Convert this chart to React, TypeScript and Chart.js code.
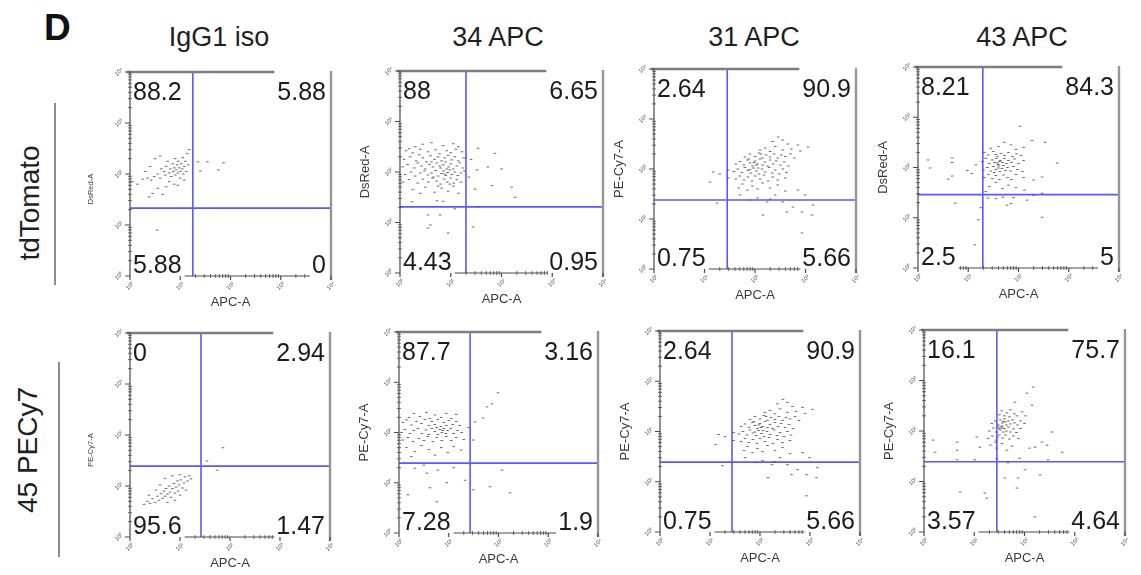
import React, { useEffect, useRef } from "react";
import { Chart, registerables } from "chart.js";

Chart.register(...registerables);

// ---------- text / labels ----------
const panelLetter = "D";
const columnHeaders = ["IgG1 iso", "34 APC", "31 APC", "43 APC"];
const rowLabels = ["tdTomato", "45 PECy7"];
const decadeTickLabels = ["10⁰", "10¹", "10²", "10³", "10⁴"];
const xAxisTitle = "APC-A";
const yAxisTitles = ["DsRed-A", "DsRed-A", "PE-Cy7-A", "DsRed-A", "PE-Cy7-A", "PE-Cy7-A", "PE-Cy7-A", "PE-Cy7-A"];

// quadrant percentages: [upper-left, upper-right, lower-left, lower-right]
const quadIgGTd = [88.2, 5.88, 5.88, 0];
const quad34Td = [88, 6.65, 4.43, 0.95];
const quad31Td = [2.64, 90.9, 0.75, 5.66];
const quad43Td = [8.21, 84.3, 2.5, 5];
const quadIgGPe = [0, 2.94, 95.6, 1.47];
const quad34Pe = [87.7, 3.16, 7.28, 1.9];
const quad31Pe = [2.64, 90.9, 0.75, 5.66];
const quad43Pe = [16.1, 75.7, 3.57, 4.64];

// quadrant gate positions (decades of the log axis, 0 = 10^0 ... 4 = 10^4)
const gateX = [1.25, 1.3, 1.45, 1.29, 1.42, 1.43, 1.44, 1.45];
const gateY = [1.33, 1.31, 1.38, 1.46, 1.39, 1.39, 1.39, 1.39];

// ---------- events (x = APC-A decade, y = DsRed-A / PE-Cy7-A decade) ----------
const pointsIgGTd = [
  [0.05, 1.85], [0.15, 1.8], [0.25, 1.9], [0.35, 1.92], [0.42, 1.88], [0.48, 1.95], [0.55, 2.0], [0.6, 1.92],
  [0.62, 2.1], [0.68, 2.05], [0.7, 1.98], [0.72, 2.15], [0.75, 2.25], [0.78, 2.02], [0.8, 2.1], [0.82, 1.95],
  [0.85, 2.2], [0.86, 2.05], [0.88, 2.12], [0.9, 2.3], [0.9, 1.98], [0.92, 2.08], [0.94, 2.18], [0.95, 2.02],
  [0.96, 2.25], [0.98, 2.12], [1.0, 2.05], [1.0, 1.92], [1.02, 2.2], [1.04, 2.1], [1.05, 2.32], [1.06, 2.0],
  [1.08, 2.15], [1.1, 2.25], [1.12, 2.05], [1.14, 2.4], [1.16, 2.18], [1.18, 2.48], [0.6, 2.35], [0.5, 2.3],
  [0.4, 2.15], [0.3, 2.05], [0.78, 1.85], [0.88, 1.8], [0.95, 1.78], [0.72, 1.75], [1.08, 1.88], [0.55, 1.72],
  [0.45, 1.62], [0.38, 1.55], [0.65, 1.6], [1.4, 2.06], [1.54, 2.24], [1.76, 2.08], [1.86, 2.22], [0.54, 0.9],
  [1.35, 2.24],
];

const points34Td = [
  [0.45, 2.55], [0.62, 2.58], [0.85, 2.52], [1.05, 2.56], [0.3, 2.5], [1.15, 2.5],
  [0.12, 2.42], [0.25, 2.38], [0.4, 2.45], [0.55, 2.4], [0.7, 2.44], [0.78, 2.36], [0.92, 2.42], [1.0, 2.38],
  [1.1, 2.45], [1.22, 2.4], [0.18, 2.46],
  [0.08, 2.25], [0.2, 2.3], [0.32, 2.22], [0.45, 2.28], [0.52, 2.2], [0.6, 2.32], [0.68, 2.25], [0.75, 2.3],
  [0.82, 2.22], [0.88, 2.28], [0.95, 2.33], [1.02, 2.24], [1.08, 2.3], [1.15, 2.22], [1.25, 2.28], [0.38, 2.34],
  [0.05, 2.1], [0.15, 2.15], [0.28, 2.08], [0.35, 2.18], [0.42, 2.12], [0.5, 2.06], [0.58, 2.15], [0.65, 2.1],
  [0.72, 2.18], [0.8, 2.08], [0.85, 2.14], [0.9, 2.2], [0.96, 2.1], [1.0, 2.16], [1.05, 2.06], [1.12, 2.12],
  [1.18, 2.18], [1.24, 2.08], [0.62, 2.2], [0.78, 2.12], [0.92, 2.06],
  [0.1, 1.95], [0.22, 2.0], [0.3, 1.92], [0.4, 1.98], [0.48, 2.02], [0.55, 1.94], [0.62, 1.98], [0.7, 2.03],
  [0.75, 1.92], [0.82, 1.97], [0.86, 2.02], [0.9, 1.93], [0.94, 1.99], [0.98, 2.04], [1.02, 1.95], [1.08, 2.0],
  [1.14, 1.93], [1.2, 1.98], [1.27, 2.02], [0.66, 1.9], [0.88, 1.96],
  [0.06, 1.8], [0.18, 1.85], [0.35, 1.78], [0.45, 1.86], [0.56, 1.8], [0.64, 1.88], [0.72, 1.82], [0.8, 1.76],
  [0.87, 1.86], [0.93, 1.8], [1.0, 1.88], [1.06, 1.78], [1.12, 1.85], [1.2, 1.8], [0.98, 1.76],
  [0.25, 1.65], [0.5, 1.7], [0.68, 1.6], [0.82, 1.68], [0.95, 1.62], [1.05, 1.72], [1.15, 1.58], [0.4, 1.58],
  [0.75, 1.72],
  [1.54, 2.47], [1.87, 2.37], [1.73, 2.1], [2.0, 2.06], [1.52, 2.04], [1.81, 1.73], [2.2, 1.7], [1.48, 1.66],
  [2.27, 1.5], [1.4, 2.25], [1.36, 1.9], [1.3, 2.28],
  [0.24, 1.41], [0.55, 1.15], [0.79, 1.15], [0.55, 0.89], [0.95, 0.79], [1.44, 0.91], [1.08, 1.27], [0.73, 1.43],
  [1.54, 1.31], [0.85, 1.42], [0.6, 0.95],
];

const points31 = [
  [2.46, 2.64], [3.05, 2.44], [2.85, 2.48], [2.55, 2.58], [2.35, 2.55], [2.65, 2.5], [2.72, 2.4], [2.4, 2.45],
  [2.2, 2.42], [2.55, 2.38], [2.9, 2.36], [2.3, 2.35], [2.1, 2.38],
  [1.9, 2.3], [2.0, 2.25], [2.08, 2.32], [2.15, 2.22], [2.22, 2.28], [2.3, 2.24], [2.38, 2.3], [2.45, 2.22],
  [2.52, 2.28], [2.6, 2.25], [2.7, 2.3], [2.78, 2.22], [1.8, 2.24], [2.12, 2.3],
  [1.62, 2.1], [1.7, 2.15], [1.78, 2.08], [1.85, 2.18], [1.9, 2.12], [1.95, 2.06], [2.0, 2.16], [2.05, 2.1],
  [2.1, 2.2], [2.15, 2.08], [2.2, 2.14], [2.25, 2.06], [2.3, 2.18], [2.36, 2.1], [2.42, 2.16], [2.5, 2.08],
  [2.58, 2.14], [2.66, 2.06], [1.88, 2.2], [2.02, 2.08], [1.98, 2.13],
  [1.58, 1.95], [1.66, 2.0], [1.74, 1.93], [1.8, 2.03], [1.86, 1.97], [1.92, 1.92], [1.97, 2.02], [2.03, 1.96],
  [2.08, 1.9], [2.14, 2.0], [2.2, 1.94], [2.28, 2.03], [2.34, 1.92], [2.4, 1.98], [2.48, 1.9], [2.55, 2.0],
  [2.62, 1.93], [1.9, 1.99], [2.06, 2.02],
  [1.62, 1.8], [1.7, 1.86], [1.78, 1.78], [1.86, 1.84], [1.94, 1.76], [2.0, 1.86], [2.1, 1.8], [2.18, 1.88],
  [2.26, 1.76], [2.35, 1.84], [2.45, 1.78], [2.6, 1.82],
  [1.68, 1.62], [1.75, 1.7], [1.85, 1.58], [1.95, 1.66], [2.05, 1.6], [2.15, 1.72], [2.3, 1.62], [2.45, 1.68],
  [2.6, 1.56], [2.85, 1.58],
  [1.11, 1.74], [1.17, 1.94], [1.47, 1.98], [1.47, 1.82], [1.3, 1.9],
  [1.9, 1.38], [2.24, 1.34], [2.55, 1.34], [2.16, 1.08], [2.63, 1.14], [2.75, 1.24], [2.93, 1.14], [3.13, 1.08],
  [2.93, 0.72], [1.25, 1.32], [3.15, 1.28], [2.99, 1.48], [2.4, 1.48], [1.7, 1.48], [2.05, 1.42], [2.3, 1.4],
];

const points43Td = [
  [2.03, 2.82], [2.27, 2.54], [2.53, 2.5], [1.72, 2.5], [1.6, 2.42], [1.85, 2.45], [1.45, 2.38], [1.95, 2.36],
  [2.1, 2.4],
  [1.32, 2.3], [1.4, 2.25], [1.5, 2.32], [1.58, 2.22], [1.65, 2.28], [1.72, 2.24], [1.8, 2.3], [1.88, 2.22],
  [1.96, 2.27], [2.05, 2.24], [1.55, 2.26],
  [1.28, 2.12], [1.35, 2.18], [1.42, 2.08], [1.48, 2.15], [1.52, 2.1], [1.56, 2.18], [1.6, 2.06], [1.64, 2.14],
  [1.68, 2.1], [1.72, 2.18], [1.76, 2.08], [1.8, 2.14], [1.86, 2.1], [1.92, 2.17], [2.0, 2.08], [2.1, 2.14],
  [1.62, 2.12], [1.58, 2.09],
  [1.3, 1.95], [1.38, 2.0], [1.45, 1.93], [1.5, 2.02], [1.55, 1.96], [1.6, 2.03], [1.63, 1.92], [1.67, 1.98],
  [1.7, 2.04], [1.74, 1.94], [1.78, 2.0], [1.84, 1.93], [1.9, 2.02], [1.98, 1.96], [2.08, 1.92], [1.6, 1.99],
  [1.52, 1.9],
  [1.32, 1.8], [1.4, 1.86], [1.48, 1.78], [1.55, 1.84], [1.62, 1.76], [1.7, 1.85], [1.78, 1.8], [1.86, 1.76],
  [1.95, 1.86], [2.1, 1.8],
  [1.42, 1.62], [1.55, 1.7], [1.68, 1.58], [1.8, 1.65], [1.95, 1.6], [2.12, 1.55], [1.35, 1.52],
  [0.2, 2.15], [0.24, 1.99], [0.68, 2.19], [0.68, 2.1], [0.98, 1.94], [1.07, 1.88], [0.68, 1.83], [0.6, 1.77],
  [1.15, 2.05],
  [2.77, 2.09], [2.47, 1.81], [2.3, 1.75],
  [2.47, 1.49], [2.17, 1.35], [1.69, 1.41], [1.77, 1.25], [2.47, 1.01], [0.74, 1.29], [1.2, 0.96], [1.13, 0.46],
  [1.39, 1.39], [1.9, 1.4], [2.3, 1.45], [1.55, 1.38], [1.85, 1.28], [1.25, 1.2],
];

const pointsIgGPe = [
  [0.28, 0.64], [0.35, 0.7], [0.4, 0.66], [0.45, 0.75], [0.5, 0.68], [0.55, 0.8], [0.58, 0.72], [0.62, 0.85],
  [0.65, 0.76], [0.68, 0.9], [0.7, 0.8], [0.72, 0.95], [0.75, 0.84], [0.78, 1.0], [0.8, 0.88], [0.82, 0.78],
  [0.85, 0.95], [0.88, 1.05], [0.9, 0.86], [0.92, 0.98], [0.95, 1.1], [0.96, 0.9], [0.98, 1.02], [1.0, 0.82],
  [1.02, 1.12], [1.05, 0.96], [1.08, 1.06], [1.1, 1.18], [1.12, 0.92], [1.15, 1.1], [1.18, 1.2], [1.22, 1.14],
  [0.52, 0.92], [0.6, 1.02], [0.7, 1.15], [0.38, 0.82], [0.85, 1.2], [0.9, 0.72], [1.0, 1.22], [0.75, 0.68],
  [1.86, 1.75], [1.54, 1.49], [1.74, 1.31],
];

const points34Pe = [
  [0.3, 2.38], [0.55, 2.4], [0.72, 2.35], [0.95, 2.38], [1.15, 2.36], [0.42, 2.32], [0.85, 2.3], [1.05, 2.28],
  [0.2, 2.3],
  [0.08, 2.2], [0.15, 2.25], [0.25, 2.15], [0.35, 2.22], [0.45, 2.18], [0.52, 2.26], [0.6, 2.14], [0.66, 2.22],
  [0.72, 2.16], [0.78, 2.26], [0.84, 2.12], [0.9, 2.2], [0.95, 2.14], [1.0, 2.24], [1.08, 2.16], [1.15, 2.22],
  [1.22, 2.14], [0.62, 2.28],
  [0.05, 2.0], [0.12, 2.06], [0.22, 1.98], [0.3, 2.04], [0.38, 2.08], [0.46, 1.98], [0.54, 2.05], [0.6, 1.96],
  [0.66, 2.08], [0.72, 2.02], [0.78, 1.96], [0.82, 2.06], [0.86, 2.0], [0.9, 2.08], [0.94, 1.98], [0.98, 2.04],
  [1.04, 2.08], [1.1, 1.98], [1.18, 2.04], [1.26, 2.0], [0.88, 2.04], [0.76, 2.1],
  [0.08, 1.85], [0.18, 1.9], [0.28, 1.82], [0.4, 1.88], [0.5, 1.84], [0.58, 1.92], [0.68, 1.82], [0.76, 1.9],
  [0.86, 1.84], [0.95, 1.92], [1.05, 1.84], [1.15, 1.9], [1.3, 1.86],
  [0.15, 1.7], [0.32, 1.62], [0.45, 1.74], [0.6, 1.66], [0.72, 1.55], [0.85, 1.7], [0.98, 1.6], [1.1, 1.72],
  [1.25, 1.65], [0.25, 1.52],
  [1.99, 2.79], [1.87, 2.57], [1.77, 2.51], [1.69, 2.29], [1.53, 2.21], [1.49, 1.85], [1.4, 2.1],
  [0.32, 1.29], [0.56, 1.19], [0.78, 1.25], [0.96, 1.0], [0.62, 0.9], [0.18, 0.76], [0.76, 0.62], [2.07, 1.25],
  [2.23, 0.8], [1.83, 0.92], [1.49, 0.86], [1.33, 1.05], [0.5, 1.35], [1.1, 1.3],
];

const points43Pe = [
  [2.17, 2.87], [2.05, 2.75], [1.81, 2.57], [2.15, 2.51],
  [1.55, 2.4], [1.65, 2.36], [1.72, 2.42], [1.8, 2.34], [1.6, 2.3], [1.7, 2.28], [1.85, 2.3], [1.5, 2.32],
  [1.95, 2.38], [2.02, 2.3],
  [1.35, 2.15], [1.42, 2.2], [1.48, 2.12], [1.52, 2.22], [1.56, 2.16], [1.6, 2.24], [1.64, 2.12], [1.68, 2.2],
  [1.72, 2.14], [1.76, 2.22], [1.8, 2.16], [1.86, 2.12], [1.92, 2.2], [2.0, 2.15], [1.58, 2.19], [1.62, 2.18],
  [1.3, 2.0], [1.38, 2.06], [1.44, 1.98], [1.48, 2.08], [1.52, 2.02], [1.54, 2.08], [1.56, 2.06], [1.58, 1.98],
  [1.6, 2.05], [1.64, 2.0], [1.68, 2.08], [1.72, 1.98], [1.78, 2.04], [1.84, 1.97], [1.92, 2.05], [1.55, 2.1],
  [1.5, 2.05],
  [1.28, 1.85], [1.36, 1.9], [1.44, 1.82], [1.5, 1.92], [1.56, 1.86], [1.62, 1.92], [1.7, 1.84], [1.78, 1.9],
  [1.88, 1.85], [1.46, 1.88],
  [1.32, 1.72], [1.45, 1.66], [1.55, 1.75], [1.65, 1.62], [1.75, 1.7], [1.42, 1.78],
  [2.55, 1.98], [2.35, 1.78], [2.45, 1.72], [2.75, 1.58], [2.21, 1.68], [2.1, 1.66], [0.18, 1.82], [0.66, 1.78],
  [0.22, 1.58], [0.66, 1.62], [1.05, 1.88], [1.11, 1.68], [0.66, 1.43], [1.01, 1.43], [1.67, 1.37], [1.61, 1.07],
  [1.87, 1.07], [1.85, 0.87], [2.01, 1.23], [2.31, 1.13], [2.47, 1.43], [0.72, 0.79], [1.21, 0.77], [1.25, 0.67],
  [2.21, 0.3], [1.45, 1.45], [1.9, 1.46],
];

const panelPoints = [pointsIgGTd, points34Td, points31, points43Td, pointsIgGPe, points34Pe, points31, points43Pe];
const panelQuads = [quadIgGTd, quad34Td, quad31Td, quad43Td, quadIgGPe, quad34Pe, quad31Pe, quad43Pe];

// ---------- layout (pixel boxes of each plot area: left, top, right, bottom) ----------
const panelBoxes = [
  [130, 72, 331, 276],
  [400, 71, 603, 273],
  [654, 69, 856, 269],
  [918, 67, 1119, 268],
  [130, 333, 330, 537],
  [399, 332, 598, 533],
  [660, 331, 860, 532],
  [924, 330, 1125, 532],
];
const FONT = '"Liberation Sans", Arial, Helvetica, sans-serif';
const PAD_L = 52, PAD_T = 6, PAD_R = 6, PAD_B = 42;

function flowPlugin(idx: number) {
  return {
    id: "flowDecor" + idx,
    afterDatasetsDraw(chart: any) {
      const ctx = chart.ctx as CanvasRenderingContext2D;
      const xs = chart.scales.x, ys = chart.scales.y;
      const { left: l, right: r, top: t, bottom: b } = chart.chartArea;
      ctx.save();

      // quadrant gates
      const gx = xs.getPixelForValue(gateX[idx]);
      const gy = ys.getPixelForValue(gateY[idx]);
      ctx.strokeStyle = "rgba(60,60,255,0.85)";
      ctx.lineWidth = 1.6;
      ctx.beginPath();
      ctx.moveTo(gx, t); ctx.lineTo(gx, b);
      ctx.moveTo(l, gy); ctx.lineTo(r, gy);
      ctx.stroke();

      // quadrant percentages
      ctx.font = "25px " + FONT;
      const q = panelQuads[idx].map((v) => String(v));
      const w = q.map((s) => ctx.measureText(s).width);
      const topBase = t + 28, botBase = b - 3;
      const pos = [
        [l + 3, topBase],
        [r - 5 - w[1], topBase],
        [l + 3, botBase],
        [r - 5 - w[3], botBase],
      ];
      ctx.fillStyle = "#ffffff";
      pos.forEach(([x, y], i) => ctx.fillRect(x - 1, y - 20, w[i] + 2, 23));
      ctx.fillStyle = "#1c1c1c";
      ctx.textBaseline = "alphabetic";
      ctx.textAlign = "left";
      pos.forEach(([x, y], i) => ctx.fillText(q[i], x, y));

      // frame: top (partial) and right
      ctx.strokeStyle = "#7d7d7d";
      ctx.lineWidth = 2.4;
      ctx.beginPath();
      ctx.moveTo(l - 3, t); ctx.lineTo(pos[1][0] - 3, t);
      ctx.stroke();
      ctx.strokeStyle = "#959595";
      ctx.beginPath();
      ctx.moveTo(r, t - 1); ctx.lineTo(r, b + 4);
      ctx.stroke();

      // left axis with log ticks
      ctx.strokeStyle = "#4a4a4a";
      ctx.lineWidth = 1.2;
      ctx.beginPath();
      ctx.moveTo(l, t); ctx.lineTo(l, b);
      for (let d = 0; d <= 4; d++) {
        const y = ys.getPixelForValue(d);
        ctx.moveTo(l - 5, y); ctx.lineTo(l, y);
      }
      ctx.stroke();
      ctx.lineWidth = 0.8;
      ctx.beginPath();
      for (let d = 0; d < 4; d++) {
        for (let k = 2; k <= 9; k++) {
          const y = ys.getPixelForValue(d + Math.log10(k));
          ctx.moveTo(l - 2, y); ctx.lineTo(l + 2, y);
        }
      }
      ctx.stroke();

      // bottom axis (partial, between lower labels)
      const bx0 = pos[2][0] + w[2] + 3, bx1 = pos[3][0] - 2;
      ctx.strokeStyle = "#4a4a4a";
      ctx.lineWidth = 1.2;
      ctx.beginPath();
      ctx.moveTo(bx0, b); ctx.lineTo(bx1, b);
      for (let d = 0; d <= 4; d++) {
        const x = xs.getPixelForValue(d);
        ctx.moveTo(x, b); ctx.lineTo(x, b + 4);
      }
      ctx.stroke();
      ctx.lineWidth = 0.8;
      ctx.beginPath();
      for (let d = 0; d < 4; d++) {
        for (let k = 2; k <= 9; k++) {
          const x = xs.getPixelForValue(d + Math.log10(k));
          if (x > bx0 && x < bx1) { ctx.moveTo(x, b - 2); ctx.lineTo(x, b + 2); }
        }
      }
      ctx.stroke();

      // tiny decade labels
      ctx.fillStyle = "#555";
      ctx.font = "6px " + FONT;
      ctx.textAlign = "center";
      ctx.textBaseline = "middle";
      for (let d = 0; d <= 4; d++) {
        const y = ys.getPixelForValue(d);
        ctx.save(); ctx.translate(l - 11, y); ctx.rotate(-Math.PI / 4);
        ctx.fillText(decadeTickLabels[d], 0, 0); ctx.restore();
        const x = xs.getPixelForValue(d);
        ctx.save(); ctx.translate(x, b + 10); ctx.rotate(-Math.PI / 4);
        ctx.fillText(decadeTickLabels[d], 0, 0); ctx.restore();
      }

      // axis titles
      ctx.fillStyle = "#3a3a3a";
      ctx.textAlign = "center";
      ctx.textBaseline = "middle";
      ctx.font = "13px " + FONT;
      ctx.fillText(xAxisTitle, (l + r) / 2, b + 26);
      const small = idx % 4 === 0;
      ctx.font = (small ? "7.5px " : "13px ") + FONT;
      ctx.save();
      ctx.translate(l - (small ? 39 : 35), (t + b) / 2 + (small ? 15 : 0));
      ctx.rotate(-Math.PI / 2);
      ctx.fillText(yAxisTitles[idx], 0, 0);
      ctx.restore();

      ctx.restore();
    },
  };
}

function FlowPlot({ idx }: { idx: number }) {
  const ref = useRef<HTMLCanvasElement>(null);
  const [l, t, r, b] = panelBoxes[idx];
  const W = r - l + PAD_L + PAD_R;
  const H = b - t + PAD_T + PAD_B;
  useEffect(() => {
    const canvas = ref.current;
    if (!canvas) return;
    const chart = new Chart(canvas, {
      type: "scatter",
      data: {
        datasets: [
          {
            data: panelPoints[idx].map(([x, y]) => ({ x, y })),
            pointStyle: "line",
            pointRadius: 1.3,
            borderWidth: 1,
            borderColor: "rgba(55,55,55,0.75)",
            backgroundColor: "rgba(55,55,55,0.75)",
          },
        ],
      },
      options: {
        responsive: false,
        animation: false,
        events: [],
        devicePixelRatio: 1,
        layout: { padding: { left: PAD_L, top: PAD_T, right: PAD_R, bottom: PAD_B } },
        scales: {
          x: { type: "linear", min: 0, max: 4, display: false },
          y: { type: "linear", min: 0, max: 4, display: false },
        },
        plugins: { legend: { display: false }, tooltip: { enabled: false } },
      },
      plugins: [flowPlugin(idx)],
    } as any);
    return () => chart.destroy();
  }, [idx]);
  return (
    <canvas
      ref={ref}
      width={W}
      height={H}
      style={{ position: "absolute", left: l - PAD_L, top: t - PAD_T, width: W, height: H }}
    />
  );
}

const headerCenters = [219, 498, 754, 1022];
const rowLabelCenters = [[30, 203], [28, 450]];
const rowLines = [[54, 103, 182], [58, 362, 195]];

export default function App() {
  return (
    <div
      style={{
        position: "absolute",
        left: 0,
        top: 0,
        width: 1141,
        height: 575,
        background: "#fff",
        overflow: "hidden",
        fontFamily: FONT,
        color: "#1f1f1f",
      }}
    >
      <div style={{ position: "absolute", left: 44, top: 9, fontSize: 37, lineHeight: "37px", fontWeight: 700, color: "#111" }}>
        {panelLetter}
      </div>
      {columnHeaders.map((h, i) => (
        <div
          key={h}
          style={{
            position: "absolute",
            left: headerCenters[i] - 100,
            top: 24,
            width: 200,
            textAlign: "center",
            fontSize: 27,
            lineHeight: "27px",
            whiteSpace: "nowrap",
          }}
        >
          {h}
        </div>
      ))}
      {rowLabels.map((lab, i) => (
        <div
          key={lab}
          style={{
            position: "absolute",
            left: rowLabelCenters[i][0] - 100,
            top: rowLabelCenters[i][1] - 14,
            width: 200,
            height: 28,
            textAlign: "center",
            fontSize: 28,
            lineHeight: "28px",
            whiteSpace: "nowrap",
            transform: "rotate(-90deg)",
            transformOrigin: "50% 50%",
          }}
        >
          {lab}
        </div>
      ))}
      {rowLines.map(([x, y, h], i) => (
        <div key={i} style={{ position: "absolute", left: x, top: y, width: 2, height: h, background: "#8c8c8c" }} />
      ))}
      {panelBoxes.map((_, i) => (
        <FlowPlot key={i} idx={i} />
      ))}
    </div>
  );
}
